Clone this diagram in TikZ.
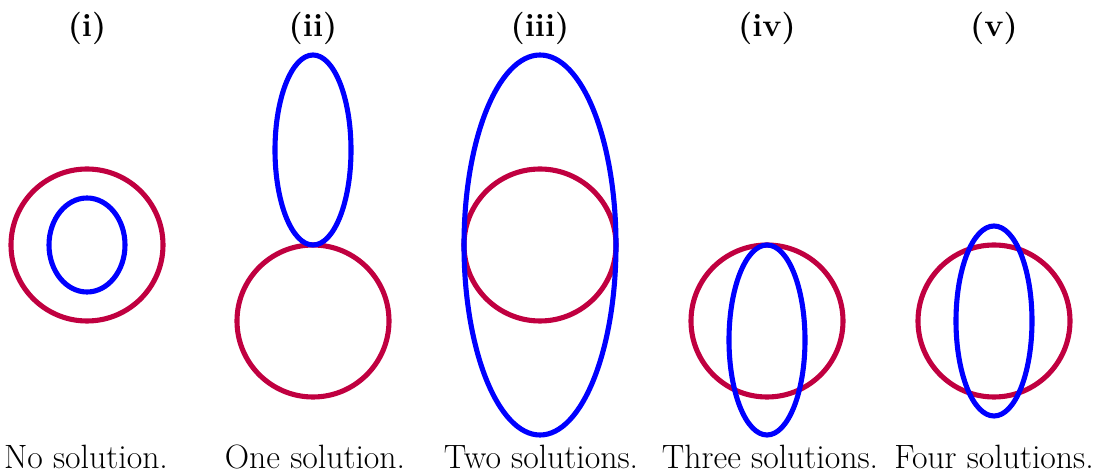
\documentclass[tikz,border=0pt]{standalone}
\definecolor{circred}{RGB}{192,0,64}
\definecolor{ellblue}{RGB}{0,0,255}
\begin{document}
\begin{tikzpicture}[x=0.02cm, y=0.02cm,
  redcirc/.style={draw=circred, line width=2.9pt},
  blueell/.style={draw=ellblue, line width=2.9pt},
  paneltitle/.style={font=\fontsize{18.4}{22}\selectfont\bfseries},
  solntext/.style={font=\fontsize{19.2}{23}\selectfont, anchor=base}]
  \useasboundingbox (0,0) rectangle (1096,473);

  % (i) ellipse inside the circle
  \draw[redcirc] (87,228) circle[radius=76];
  \draw[blueell] (87,228) ellipse[x radius=38, y radius=47];
  \node[paneltitle] (t1) at (87,445) {(i)};
  \node[solntext] (s1) at (86,4) {No solution.};

  % (ii) touching from above
  \draw[redcirc] (313,152) circle[radius=76];
  \draw[blueell] (313,323) ellipse[x radius=38, y radius=95];
  \node[paneltitle] (t2) at (313,445) {(ii)};
  \node[solntext] (s2) at (315,4) {One solution.};

  % (iii) touching at the sides
  \draw[redcirc] (540,228) circle[radius=76];
  \draw[blueell] (540,228) ellipse[x radius=76, y radius=190];
  \node[paneltitle] (t3) at (540,445) {(iii)};
  \node[solntext] (s3) at (541,4) {Two solutions.};

  % (iv) touching at the top, crossing below
  \draw[redcirc] (767,152) circle[radius=76];
  \draw[blueell] (767,133) ellipse[x radius=38, y radius=95];
  \node[paneltitle] (t4) at (767,445) {(iv)};
  \node[solntext] (s4) at (770,4) {Three solutions.};

  % (v) crossing four times
  \draw[redcirc] (994,152) circle[radius=76];
  \draw[blueell] (994,152) ellipse[x radius=38, y radius=95];
  \node[paneltitle] (t5) at (994,445) {(v)};
  \node[solntext] (s5) at (994,4) {Four solutions.};
\end{tikzpicture}
\end{document}
